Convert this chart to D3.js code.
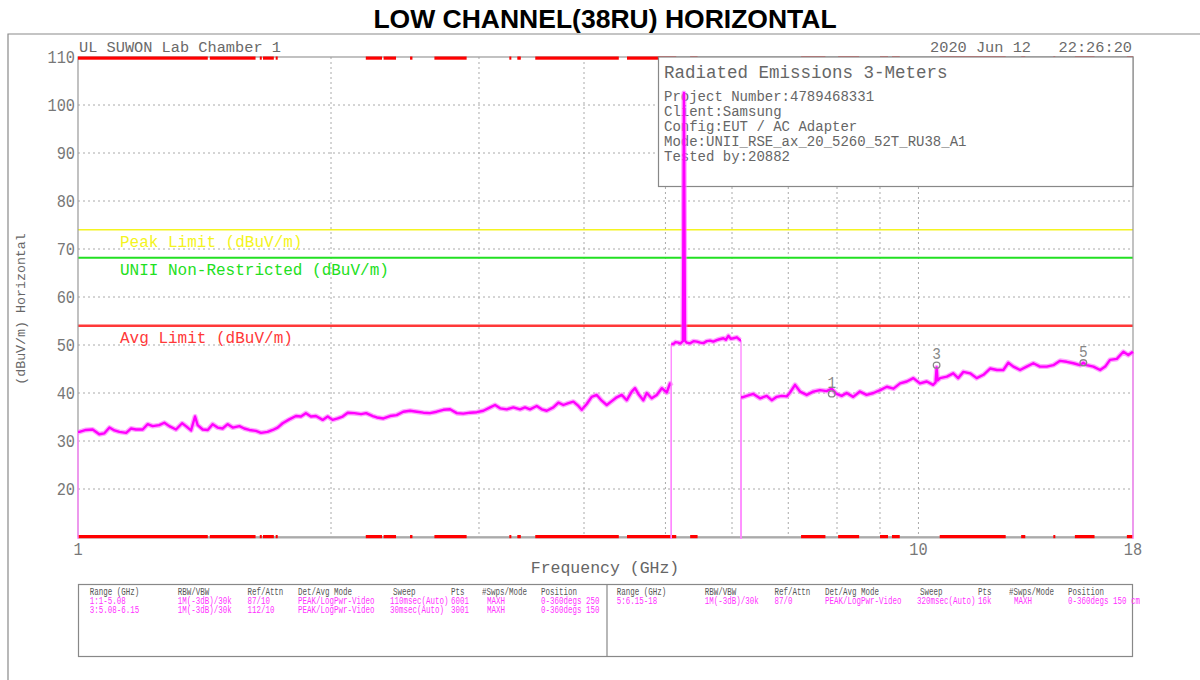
<!DOCTYPE html>
<html><head><meta charset="utf-8">
<script src="https://cdn.jsdelivr.net/npm/d3@7"></script>
<style>body{margin:0;background:#fff} svg{display:block}</style>
</head><body>
<svg id="c" width="1200" height="680"></svg>
<script>
// ---------------- DATA ----------------
const chartTitle = "LOW CHANNEL(38RU) HORIZONTAL";
const headerLeft = "UL SUWON Lab Chamber 1";
const headerRight = "2020 Jun 12   22:26:20";
const yTickValues = [20,30,40,50,60,70,80,90,100,110];
const xTickValues = [1,10,18];
const xGridValues = [2,3,4,5,6,7,8,9,10];
const yGridValues = [20,30,40,50,60,70,80,90,100];
const yAxisLabel = "(dBuV/m) Horizontal";
const xAxisLabel = "Frequency (GHz)";
const limitNames = ["Peak Limit (dBuV/m)","UNII Non-Restricted (dBuV/m)","Avg Limit (dBuV/m)"];
const limitValues = [74, 68.2, 54];
const infoTitle = "Radiated Emissions 3-Meters";
const infoLines = ["Project Number:4789468331","Client:Samsung","Config:EUT / AC Adapter","Mode:UNII_RSE_ax_20_5260_52T_RU38_A1","Tested by:20882"];
const restrictedBands = [[1.0,1.427],[1.435,1.6265],[1.6455,1.6465],[1.66,1.71],[1.7188,1.7222],[2.2,2.3],[2.31,2.39],[2.4835,2.5],[2.655,2.9],[3.26,3.267],[3.332,3.339],[3.3458,3.358],[3.5,4.4],[4.5,5.15],[5.35,5.46],[7.25,7.75],[8.025,8.5],[9.0,9.2],[9.3,9.5],[10.6,12.7],[13.25,13.4],[14.47,14.5],[15.35,16.2],[17.7,18]];
// trace ranges [GHz, dBuV/m]
const range1 = [[1.0,31.9],[1.004,31.9],[1.022,32.3],[1.041,32.4],[1.060,31.4],[1.075,31.6],[1.090,32.8],[1.105,32.2],[1.120,31.9],[1.141,31.7],[1.156,32.6],[1.172,32.4],[1.194,32.4],[1.210,33.5],[1.227,33.1],[1.249,33.3],[1.267,33.8],[1.284,33.1],[1.308,32.4],[1.330,33.7],[1.344,33.1],[1.363,32.2],[1.378,35.1],[1.388,33.3],[1.407,32.4],[1.427,32.3],[1.446,33.5],[1.466,32.8],[1.486,32.6],[1.507,33.5],[1.528,32.8],[1.556,33.1],[1.577,32.6],[1.599,32.3],[1.628,32.1],[1.651,31.7],[1.681,31.9],[1.705,32.3],[1.728,32.8],[1.752,33.7],[1.784,34.5],[1.817,35.2],[1.842,35.1],[1.867,35.8],[1.893,35.1],[1.919,35.2],[1.955,34.4],[1.982,35.1],[2.009,34.4],[2.037,34.7],[2.065,35.1],[2.094,35.9],[2.132,35.8],[2.172,35.6],[2.202,35.8],[2.243,35.2],[2.268,34.9],[2.309,34.7],[2.351,35.2],[2.394,35.4],[2.438,36.1],[2.484,36.3],[2.530,36.1],[2.576,35.9],[2.623,35.8],[2.672,36.1],[2.721,36.5],[2.771,36.6],[2.823,35.8],[2.874,35.7],[2.928,35.9],[2.982,36.0],[3.036,36.3],[3.093,37.0],[3.135,37.5],[3.179,36.8],[3.237,36.6],[3.296,37.0],[3.357,36.6],[3.403,37.0],[3.450,36.6],[3.514,37.3],[3.563,36.6],[3.612,36.3],[3.678,37.0],[3.729,38.0],[3.780,37.5],[3.833,37.9],[3.885,38.2],[3.939,37.3],[3.975,36.5],[4.030,37.7],[4.085,39.2],[4.142,39.6],[4.199,38.4],[4.257,37.5],[4.316,38.3],[4.375,39.1],[4.436,39.6],[4.497,38.5],[4.559,40.3],[4.600,41.0],[4.642,39.8],[4.706,38.5],[4.750,40.0],[4.815,38.9],[4.882,39.6],[4.950,41.0],[5.018,40.1],[5.063,42.0],[5.08,41.5]];
const range3 = [[5.08,50.2],[5.109,50.2],[5.14,50.6],[5.18,50.5],[5.21,50.3],[5.229,50.6],[5.245,50.8],[5.26,102.5],[5.275,50.9],[5.30,50.5],[5.35,50.35],[5.40,50.8],[5.449,50.7],[5.50,50.5],[5.548,50.4],[5.60,50.8],[5.650,50.9],[5.70,50.7],[5.754,51.0],[5.80,51.2],[5.860,51.4],[5.90,51.1],[5.941,51.9],[5.98,51.3],[6.023,51.4],[6.08,51.6],[6.135,51.0],[6.15,51.0]];
const range5 = [[6.15,39.1],[6.172,39.1],[6.247,39.4],[6.361,39.8],[6.479,38.9],[6.599,39.4],[6.690,38.5],[6.782,39.2],[6.876,39.4],[6.970,39.3],[7.034,40.1],[7.131,41.7],[7.229,40.3],[7.363,39.6],[7.497,40.3],[7.636,40.6],[7.777,40.4],[7.884,40.9],[7.992,39.8],[8.102,39.4],[8.214,40.0],[8.363,39.2],[8.518,40.3],[8.676,39.6],[8.840,40.0],[9.004,40.6],[9.170,41.3],[9.338,40.9],[9.509,42.0],[9.685,42.4],[9.861,43.1],[10.04,42.0],[10.23,42.4],[10.41,41.7],[10.48,42.2],[10.51,45.3],[10.54,42.6],[10.61,43.1],[10.81,43.4],[11.00,44.1],[11.15,43.1],[11.31,44.4],[11.52,44.1],[11.73,43.1],[11.95,43.8],[12.17,45.1],[12.40,44.8],[12.62,44.8],[12.79,46.3],[12.97,45.5],[13.21,44.8],[13.45,45.5],[13.70,46.2],[13.95,45.5],[14.21,45.5],[14.47,45.8],[14.74,46.7],[15.01,46.5],[15.29,46.2],[15.57,45.8],[15.71,46.3],[15.86,45.8],[16.15,45.5],[16.45,44.8],[16.68,45.5],[16.90,46.9],[17.22,47.1],[17.53,48.6],[17.77,47.9],[18.0,48.6]];
const markerIds = ["1","3","5"];
const markerFreqs = [7.885, 10.51, 15.71];
const markerLevels = [39.8, 45.8, 46.3];
const tableHeader = ["Range (GHz)","RBW/VBW","Ref/Attn","Det/Avg Mode","Sweep","Pts","#Swps/Mode","Position"];
const tableRowsLeft = [
  ["1:1-5.08","1M(-3dB)/30k","87/10","PEAK/LogPwr-Video","110msec(Auto)","6001","MAXH","0-360degs 250"],
  ["3:5.08-6.15","1M(-3dB)/30k","112/10","PEAK/LogPwr-Video","30msec(Auto)","3001","MAXH","0-360degs 150"]
];
const tableRowsRight = [
  ["5:6.15-18","1M(-3dB)/30k","87/0","PEAK/LogPwr-Video","320msec(Auto)","16k","MAXH","0-360degs 150 cm"]
];

// ---------------- STYLE / LAYOUT ----------------
const MONO = "'Liberation Mono','DejaVu Sans Mono',monospace";
const limitColors = ["#f4f420","#22e022","#ff3838"];
const limitWidths = [1.5, 2, 2.5];
const TRACE = "#ff00ff";

const svg = d3.select("#c");
const x = d3.scaleLog().domain([1,18]).range([78,1133]);
const y = d3.scaleLinear().domain([10,110]).range([537,57]);

function T(g, s, px, py, o) {
  return g.append("text")
    .attr("transform", `translate(${px},${py})` + (o.rot ? ` rotate(${o.rot})` : "") + ` scale(${o.sx||1},1)`)
    .attr("font-family", o.family || MONO)
    .attr("font-size", o.size)
    .attr("font-weight", o.weight || "normal")
    .attr("text-anchor", o.anchor || "start")
    .attr("fill", o.fill || "#666")
    .style("white-space","pre")
    .text(s);
}

// outer frame
svg.append("path").attr("d","M8,680 L8,34 L1200,34").attr("fill","none").attr("stroke","#8a8a8a").attr("stroke-width",1.2);

// title
T(svg, chartTitle, 605, 28, {size:26.5, family:"'Liberation Sans',Arial,sans-serif", weight:"bold", anchor:"middle", fill:"#000"});

// header texts
T(svg, headerLeft, 79, 52, {size:15.3, fill:"#6a6a6a"});
T(svg, headerRight, 1132, 52, {size:15.3, anchor:"end", fill:"#6a6a6a"});

// grid
const grid = svg.append("g").attr("stroke","#aaa").attr("stroke-width",1).attr("stroke-dasharray","2,3");
grid.selectAll("line.h").data(yGridValues).join("line").attr("class","h")
  .attr("x1",x(1)).attr("x2",x(18)).attr("y1",d=>y(d)).attr("y2",d=>y(d));
grid.selectAll("line.v").data(xGridValues).join("line").attr("class","v")
  .attr("x1",d=>x(d)).attr("x2",d=>x(d)).attr("y1",y(110)).attr("y2",y(10));

// limit lines
svg.selectAll("line.lim").data(limitValues).join("line").attr("class","lim")
  .attr("x1",x(1)).attr("x2",x(18)).attr("y1",d=>y(d)).attr("y2",d=>y(d))
  .attr("stroke",(d,i)=>limitColors[i]).attr("stroke-width",(d,i)=>limitWidths[i]);
limitNames.forEach((n,i)=>{
  T(svg, n, 120, y(limitValues[i]) + 17, {size:16, fill:limitColors[i]});
});

// axis frame
svg.append("rect").attr("x",x(1)).attr("y",y(110)).attr("width",x(18)-x(1)).attr("height",y(10)-y(110))
  .attr("fill","none").attr("stroke","#999").attr("stroke-width",1.2);
svg.append("line").attr("x1",x(1)).attr("x2",x(18)).attr("y1",y(10)+0.5).attr("y2",y(10)+0.5)
  .attr("stroke","#aaa").attr("stroke-width",2);

// restricted bands (top & bottom)
[y(110)-0.5, y(10)-2].forEach(yy=>{
  svg.append("g").selectAll("rect").data(restrictedBands).join("rect")
    .attr("x",d=>x(d[0])).attr("width",d=>Math.max(2, x(d[1])-x(d[0])))
    .attr("y",yy).attr("height",3.2).attr("fill","#ff0000");
});

// y tick labels
yTickValues.forEach(v=>{
  T(svg, String(v), 75, y(v)+6, {size:18, sx:0.85, anchor:"end", fill:"#777"});
});
// x tick labels
xTickValues.forEach(v=>{
  T(svg, String(v), x(v), 555, {size:18, sx:0.85, anchor:"middle", fill:"#777"});
});
T(svg, xAxisLabel, 605, 573, {size:16.5, anchor:"middle", fill:"#666"});
T(svg, yAxisLabel, 25, 309, {size:13.3, anchor:"middle", fill:"#666", rot:-90});

// info box
svg.append("rect").attr("x",658.5).attr("y",y(110)).attr("width",x(18)-658.5).attr("height",129.5)
  .attr("fill","#fff").attr("stroke","#888").attr("stroke-width",1.2);
T(svg, infoTitle, 664, 78, {size:17.5, fill:"#666"});
infoLines.forEach((s,i)=>T(svg, s, 664, 101 + i*15.1, {size:14, fill:"#666"}));

// trace
const line = d3.line().x(d=>x(d[0])).y(d=>y(d[1]));
[range1, range3, range5].forEach(r=>{
  const f0 = r[0], f1 = r[r.length-1];
  svg.append("path").attr("d", line([[f0[0],9.6],f0])).attr("stroke","#ff88ff").attr("stroke-width",1.4).attr("fill","none");
  svg.append("path").attr("d", line([f1,[f1[0],9.6]])).attr("stroke","#ff88ff").attr("stroke-width",1.4).attr("fill","none");
  svg.append("path").attr("d", line(r)).attr("stroke","#ff70ff").attr("stroke-opacity",0.6).attr("stroke-width",5).attr("fill","none").attr("stroke-linejoin","round");
  svg.append("path").attr("d", line(r)).attr("stroke",TRACE).attr("stroke-width",2.4).attr("fill","none").attr("stroke-linejoin","round");
});

// markers
markerIds.forEach((m,i)=>{
  const mx = x(markerFreqs[i]), my = y(markerLevels[i]);
  svg.append("ellipse").attr("cx",mx).attr("cy",my).attr("rx",3.3).attr("ry",3).attr("fill","none").attr("stroke","#888").attr("stroke-width",1.3);
  T(svg, m, mx, my - 6, {size:17, sx:0.85, anchor:"middle", fill:"#888"});
});

// table
const tb = svg.append("g");
tb.append("rect").attr("x",78.5).attr("y",584.5).attr("width",1054).attr("height",72).attr("fill","#fff").attr("stroke","#888").attr("stroke-width",1.2);
tb.append("line").attr("x1",607).attr("x2",607).attr("y1",584.5).attr("y2",656.5).attr("stroke","#888").attr("stroke-width",1.2);
const headX = [89.8,177.7,247.4,298,393,451,482,541];
const dataX = [89.8,177.7,247.4,298,390,451,487,541];
const rowY = [594.5, 603.5, 613];
[0, 527].forEach((off, h)=>{
  tableHeader.forEach((s,j)=>T(tb, s, headX[j]+off, rowY[0], {size:10, sx:0.75, fill:"#555"}));
  const rows = h===0 ? tableRowsLeft : tableRowsRight;
  rows.forEach((row,ri)=>row.forEach((s,j)=>T(tb, s, dataX[j]+off, rowY[ri+1], {size:10, sx:0.75, fill:"#ff33ff"})));
});
</script>
</body></html>
